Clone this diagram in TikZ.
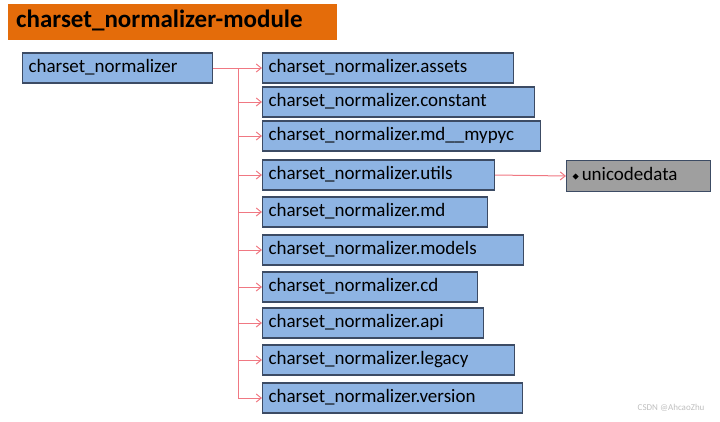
\documentclass[tikz,border=0pt]{standalone}
\usepackage{fontspec}
\setmainfont{Carlito}
\usetikzlibrary{arrows.meta}
\definecolor{boxblue}{RGB}{142,180,227}
\definecolor{boxedge}{RGB}{60,75,100}
\definecolor{ttl}{RGB}{228,108,10}
\definecolor{lnk}{RGB}{240,120,130}
\begin{document}
\begin{tikzpicture}[x=1pt,y=-1pt,
  mod/.style={draw=boxedge,line width=1.2pt,fill=boxblue,anchor=west,minimum height=30pt,inner xsep=6pt,inner ysep=0pt,font=\fontsize{19}{19}\selectfont,align=left,text depth=4pt,text height=13pt},
  lk/.style={draw=lnk,line width=1pt,-{Straight Barb[length=5pt,width=8pt]}}]
\useasboundingbox (0,0) rectangle (720,421);
\node[fill=ttl,anchor=west,minimum height=36pt,inner xsep=8pt,inner ysep=0pt,text width=313pt,font=\bfseries\fontsize{25}{25}\selectfont,text depth=6pt,text height=17pt] (title) at (8,22) {charset\_normalizer-module};
\node[mod,text width=178pt] (root) at (22,68) {charset\_normalizer};
\coordinate (sp) at (238,68);
\foreach \n/\t/\y/\w in {a/assets/68/239,b/constant/102/260,c/md\_\_mypyc/136/266,d/utils/175/220,e/md/212/213,f/models/250/249,g/cd/287/203,h/api/323/209,i/legacy/360/240,j/version/398/248}{
  \node[mod,text width=\w pt] (\n) at (262,\y) {charset\_normalizer.\t};
  \coordinate (s\n) at (238,\y);
  \draw[lk] (s\n) -- (\n.west);
}
\draw[draw=lnk,line width=1pt] (root.east) -- (sp) -- (sj);
\node[draw=boxedge,line width=1.2pt,fill=gray!75,anchor=west,minimum height=31pt,text width=132pt,inner xsep=6pt,inner ysep=0pt,font=\fontsize{19}{19}\selectfont,text depth=4pt,text height=13pt] (u) at (566,176) {\tikz[baseline]\fill (0,4pt)--(3pt,7pt)--(6pt,4pt)--(3pt,1pt)--cycle;\,unicodedata};
\draw[lk] (d.east) -- (u.west);
\node[text=gray!50,font=\fontsize{9}{9}\selectfont,anchor=east] (wm) at (708,408) {CSDN @AhcaoZhu};
\end{tikzpicture}
\end{document}
